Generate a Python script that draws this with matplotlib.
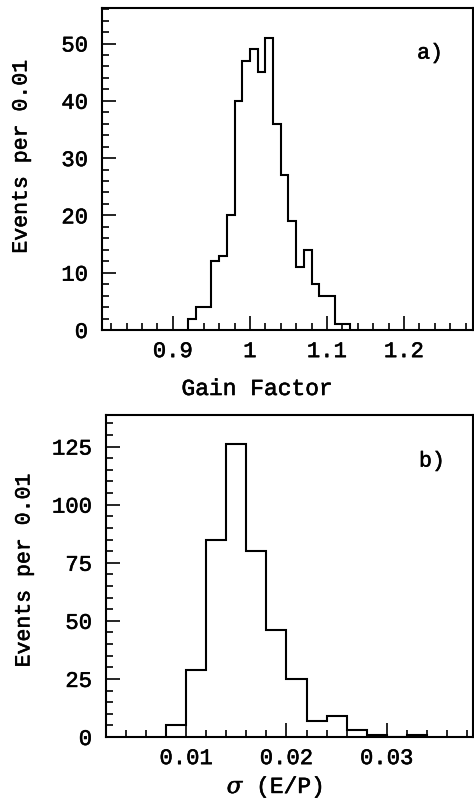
import numpy as np
import matplotlib
matplotlib.use('Agg')
import matplotlib.pyplot as plt
import matplotlib.patheffects as pe
from matplotlib.ticker import MultipleLocator, FuncFormatter

plt.rcParams['font.family'] = ['Liberation Mono', 'DejaVu Serif']
plt.rcParams['mathtext.fontset'] = 'dejavuserif'

# Gain factor histogram, bins of 0.01 starting at 0.92
gain_start = 0.92
gain_width = 0.01
gain_counts = [2, 4, 4, 12, 13, 20, 40, 47, 49, 45, 51, 36, 27, 19, 11, 14, 8, 6, 6, 1, 1]

# sigma(E/P) histogram, bins of 0.002 starting at 0.008
sig_start = 0.008
sig_width = 0.002
sig_counts = [5, 29, 85, 126, 80, 46, 25, 7, 9, 3, 1, 0, 1]

gain_ticks = [0.9, 1.0, 1.1, 1.2]
sig_ticks = [0.01, 0.02, 0.03]

W, H = 474, 803
fig = plt.figure(figsize=(W / 100, H / 100), dpi=100)

ax_a = fig.add_axes([102 / W, (H - 331) / H, 371 / W, 322 / H])
ax_b = fig.add_axes([106 / W, (H - 738) / H, 367 / W, 322 / H])

# a slightly heavier stroke for the thin typewriter face
heavy = [pe.withStroke(linewidth=0.4, foreground='black')]


def style_axes(ax):
    for sp in ax.spines.values():
        sp.set_linewidth(1.5)
    ax.tick_params(which='both', direction='in', top=False, right=False,
                   width=1.2, labelsize=16)
    ax.tick_params(which='major', length=10)
    ax.tick_params(axis='x', which='major', pad=8)
    ax.tick_params(axis='y', which='major', pad=10)
    ax.tick_params(which='minor', length=5)
    for lab in ax.get_xticklabels() + ax.get_yticklabels():
        lab.set_path_effects(heavy)


fmt = FuncFormatter(lambda v, p: '%g' % v)

# panel a
edges_a = gain_start + gain_width * np.arange(len(gain_counts) + 1)
ax_a.stairs(gain_counts, edges_a, color='black', linewidth=1.5)
ax_a.set_xlim(0.808, 1.2896)
ax_a.set_ylim(0, 56.2)
ax_a.set_xticks(gain_ticks)
ax_a.xaxis.set_major_formatter(fmt)
ax_a.xaxis.set_minor_locator(MultipleLocator(0.02))
ax_a.yaxis.set_major_locator(MultipleLocator(10))
ax_a.yaxis.set_minor_locator(MultipleLocator(2))
style_axes(ax_a)
ax_a.set_xlabel('Gain Factor', fontsize=16.5, path_effects=heavy)
ax_a.xaxis.set_label_coords(0.418, -0.146)
ax_a.set_ylabel('Events per 0.01', fontsize=15.5, path_effects=heavy)
ax_a.yaxis.set_label_coords(-0.19, 0.537)
ax_a.text(0.884, 0.86, 'a)', transform=ax_a.transAxes, fontsize=15.5,
          ha='center', va='center', path_effects=heavy)

# panel b
edges_b = sig_start + sig_width * np.arange(len(sig_counts) + 1)
ax_b.stairs(sig_counts, edges_b, color='black', linewidth=1.5)
ax_b.set_xlim(0.002, 0.0386)
ax_b.set_ylim(0, 138.6)
ax_b.set_xticks(sig_ticks)
ax_b.xaxis.set_major_formatter(fmt)
ax_b.xaxis.set_minor_locator(MultipleLocator(0.002))
ax_b.yaxis.set_major_locator(MultipleLocator(25))
ax_b.yaxis.set_minor_locator(MultipleLocator(5))
style_axes(ax_b)
ax_b.set_xlabel(r'$\sigma$ (E/P)', fontsize=16.5, path_effects=heavy)
ax_b.xaxis.set_label_coords(0.46, -0.112)
ax_b.set_ylabel('Events per 0.01', fontsize=15.5, path_effects=heavy)
ax_b.yaxis.set_label_coords(-0.195, 0.516)
ax_b.text(0.888, 0.857, 'b)', transform=ax_b.transAxes, fontsize=15.5,
          ha='center', va='center', path_effects=heavy)

fig.savefig('out.png', dpi=100)
